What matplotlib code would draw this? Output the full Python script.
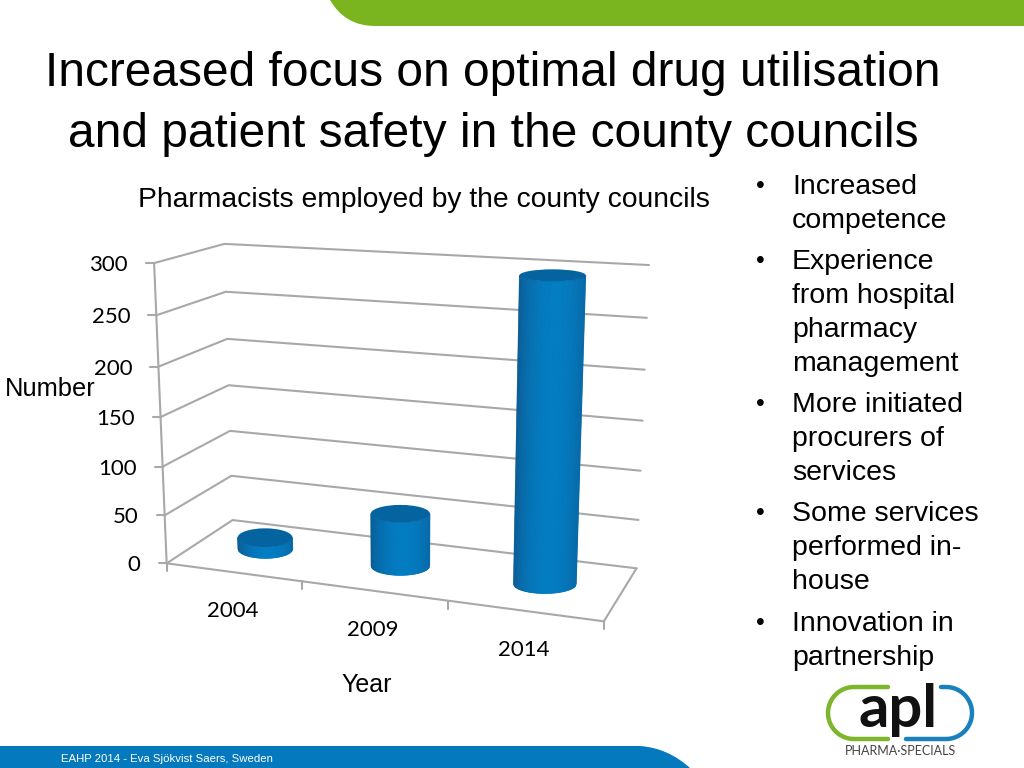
import numpy as np
import matplotlib
matplotlib.use("Agg")
import matplotlib.pyplot as plt
from matplotlib.path import Path
from matplotlib.patches import PathPatch, Ellipse
from matplotlib.collections import PolyCollection

# ---- data ----
years = ["2004", "2009", "2014"]
pharmacists = [12, 54, 297]
value_ticks = [0, 50, 100, 150, 200, 250, 300]
chart_title = "Pharmacists employed by the county councils"
title_lines = ["Increased focus on optimal drug utilisation",
               "and patient safety in the county councils"]
bullet_groups = [["Increased", "competence"],
                 ["Experience", "from hospital", "pharmacy", "management"],
                 ["More initiated", "procurers of", "services"],
                 ["Some services", "performed in-", "house"],
                 ["Innovation in", "partnership"]]
footer = "EAHP 2014 - Eva Sjökvist Saers, Sweden"

# ---- styles ----
SANS = "Liberation Sans"
CAL = "Lato"
GREY = "#A8A8A8"
GREEN = "#7AB51F"
BLUE = "#0579BD"
BAR_DARK = np.array([0x0B, 0x5A, 0x92]) / 255
BAR_LIGHT = np.array([0x03, 0x7C, 0xC2]) / 255
BAR_TOP = "#05639F"

fig = plt.figure(figsize=(10.24, 7.68), dpi=100, facecolor="white")
ax = fig.add_axes([0, 0, 1, 1])
ax.set_xlim(0, 1024)
ax.set_ylim(768, 0)
ax.axis("off")

# ---- perspective camera fitted to the chart box (u: category, v: depth, h: value) ----
box_world = np.array([[0, 0, 0], [0, 0, 300], [0, 1, 0], [0, 1, 300],
                      [3, 1, 0], [3, 1, 300], [3, 0, 0], [1, 0, 0], [2, 0, 0]], float)
box_pixel = np.array([[166.7, 563.3], [154, 263], [232.5, 520], [224.5, 244],
                      [636.6, 568.3], [649, 265], [603.7, 621.7], [302.4, 581.7], [447.7, 600]])
A, b = [], []
for (X, Y, Z), (px, py) in zip(box_world, box_pixel):
    A.append([X, Y, Z, 1, 0, 0, 0, 0, -px * X, -px * Y, -px * Z]); b.append(px)
    A.append([0, 0, 0, 0, X, Y, Z, 1, -py * X, -py * Y, -py * Z]); b.append(py)
sol = np.linalg.lstsq(np.array(A), np.array(b), rcond=None)[0]
P = np.append(sol, 1).reshape(3, 4)


def project(u, v, h):
    u, v, h = np.broadcast_arrays(np.asarray(u, float), np.asarray(v, float), np.asarray(h, float))
    q = P @ np.stack([u.ravel(), v.ravel(), h.ravel(), np.ones(u.size)])
    return (q[0] / q[2]).reshape(u.shape), (q[1] / q[2]).reshape(u.shape)


# ---- slide decoration ----
def shape(verts, codes, color, z=1):
    ax.add_patch(PathPatch(Path(verts, codes), fc=color, ec="none", zorder=z))


M, L, C, Z = Path.MOVETO, Path.LINETO, Path.CURVE3, Path.CLOSEPOLY
shape([(330, 0), (345, 26), (375, 26), (1024, 26), (1024, 0), (330, 0)], [M, C, C, L, L, Z], GREEN)
shape([(0, 746), (640, 746), (668, 748), (690, 768), (0, 768), (0, 746)], [M, L, C, C, L, Z], BLUE)
ax.text(61, 762, footer, color="white", fontsize=8.2, family=SANS, va="baseline")

# ---- titles ----
ax.text(493, 86, title_lines[0], fontsize=34.5, family=SANS, color="black", ha="center", va="baseline")
ax.text(493, 147, title_lines[1], fontsize=34.5, family=SANS, color="black", ha="center", va="baseline")
ax.text(423.5, 207, chart_title, fontsize=20.3, family=SANS, ha="center", va="baseline")

# ---- bullets ----
baselines = iter([194, 228, 269, 303, 337, 371, 412, 446, 480, 521, 555, 589, 631, 665])
for group in bullet_groups:
    for i, line in enumerate(group):
        y = next(baselines)
        if i == 0:
            ax.text(760, y - 1, "•", fontsize=18, family=SANS, ha="center", va="baseline")
        ax.text(792, y, line, fontsize=20.5, family=SANS, va="baseline")

# ---- chart box ----
line_kw = dict(color=GREY, lw=1.5, solid_capstyle="round", zorder=2)
for val in value_ticks:
    xs, ys = project([0, 0, 3], [0, 1, 1], val)
    ax.plot(xs, ys, **line_kw)
    x0, y0 = project(0, 0, val)
    ax.plot([x0 - 8, x0], [y0, y0], **line_kw)
    ax.text(x0 - 26, y0 + 2, str(val), fontsize=16, family=CAL, ha="right", va="center", zorder=3)
xs, ys = project([0, 0], [0, 0], [0, value_ticks[-1]])
ax.plot(xs, ys, **line_kw)
xs, ys = project([0, 3, 3], [0, 0, 1], 0)
ax.plot(xs, ys, **line_kw)
for i in range(len(years) + 1):
    x0, y0 = project(i, 0, 0)
    ax.plot([x0, x0], [y0, y0 + 8], **line_kw)
for i, yr in enumerate(years):
    x0, y0 = project(i + 0.5, 0, 0)
    ax.text(x0 - 1, y0 + 39, yr, fontsize=16, family=CAL, ha="center", va="center", zorder=3)

ax.text(5, 396, "Number", fontsize=18.4, family=SANS, va="baseline")
ax.text(367, 692, "Year", fontsize=18, family=SANS, ha="center", va="baseline")

# ---- cylinders (horizontal screen-space ellipses at projected centres) ----
RU = 0.21
FLAT_BOTTOM, FLAT_TOP = 9.5, 6.0
s = np.linspace(-1, 1, 81)
for i, val in enumerate(pharmacists):
    uc = i + 0.5
    xb, yb = project(uc, 0.5, 0)
    xt, yt = project(uc, 0.5, val)
    ab = (project(uc + RU, 0.5, 0)[0] - project(uc - RU, 0.5, 0)[0]) / 2
    at = (project(uc + RU, 0.5, val)[0] - project(uc - RU, 0.5, val)[0]) / 2
    bt = FLAT_BOTTOM + (FLAT_TOP - FLAT_BOTTOM) * val / value_ticks[-1]
    xlow = xb + ab * s
    ylow = yb + FLAT_BOTTOM * np.sqrt(1 - s ** 2)
    xhigh = xt + at * s
    yhigh = yt + bt * np.sqrt(1 - s ** 2)
    polys, cols = [], []
    for k in range(len(s) - 1):
        polys.append([(xlow[k], ylow[k]), (xlow[k + 1], ylow[k + 1]), (xhigh[k + 1], yhigh[k + 1]), (xhigh[k], yhigh[k])])
        m = (s[k] + s[k + 1]) / 2
        w = np.clip(1 - ((m - 0.12) / 1.12) ** 2, 0, 1) ** 0.8
        cols.append(BAR_DARK + (BAR_LIGHT - BAR_DARK) * w)
    ax.add_collection(PolyCollection(polys, facecolors=cols, edgecolors=cols, linewidths=0.5, zorder=4))
    ax.add_patch(Ellipse((xt, yt), 2 * at, 2 * bt, fc=BAR_TOP, ec="none", zorder=5))

# ---- logo ----
t1 = np.linspace(np.pi / 2, 3 * np.pi / 2, 40)
cx_l, cx_r, cy, r = 854, 946, 713, 26
gx = np.r_[888, cx_l + r * np.cos(t1), 888]
gy = np.r_[cy - r, cy - r * np.sin(t1), cy + r]
ax.plot(gx, gy, color="#7DB52B", lw=3.2, solid_capstyle="round", zorder=3)
t2 = np.linspace(np.pi / 2, -np.pi / 2, 40)
bx = np.r_[941, cx_r + r * np.cos(t2), 906]
by = np.r_[cy - r, cy - r * np.sin(t2), cy + r]
ax.plot(bx, by, color="#1B80BE", lw=3.2, solid_capstyle="round", zorder=3)
ax.text(898, 727, "apl", fontsize=43, family="Lato", weight="bold", color="#111111",
        ha="center", va="baseline", zorder=4)
ax.text(900, 755, "PHARMA·SPECIALS", fontsize=9, family="Lato", color="#444444", ha="center", va="baseline")

fig.savefig("out.png", dpi=100, facecolor="white")
